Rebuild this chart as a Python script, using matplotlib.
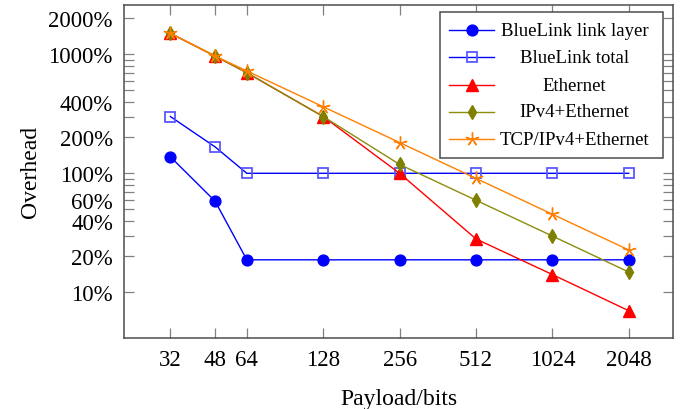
import matplotlib
matplotlib.use("Agg")
import matplotlib.pyplot as plt
from matplotlib.patches import Rectangle
from matplotlib.ticker import FixedLocator, FuncFormatter, NullLocator

plt.rcParams['font.family'] = ['Liberation Serif', 'DejaVu Serif']

payload = [32, 48, 64, 128, 256, 512, 1024, 2048]
bluelink_link = [137.5, 58.3, 18.75, 18.75, 18.75, 18.75, 18.75, 18.75]
bluelink_total = [300, 166.7, 100, 100, 100, 100, 100, 100]
ethernet = [1500, 966.7, 700, 300, 100, 28.1, 14.1, 7.0]
ipv4_eth = [1500, 966.7, 700, 300, 118.8, 59.4, 29.7, 14.8]
tcp_ipv4_eth = [1500, 966.7, 725, 362.5, 181.3, 90.6, 45.3, 22.7]

y_tick_pos = list(range(10, 100, 10)) + list(range(100, 1000, 100)) + [1000, 2000]
y_tick_labels = [10, 20, 40, 60, 100, 200, 400, 1000, 2000]

series = [
    ("BlueLink link layer", bluelink_link, dict(color=(0, 0, 1), marker='o', ms=7.8,
                                                mfc=(0, 0, 1), mec=(0, 0, 1))),
    ("BlueLink total", bluelink_total, dict(color=(0, 0, 1), marker='s', ms=7.8,
                                            mfc='none', mec=(0.35, 0.35, 1), mew=1.3)),
    ("Ethernet", ethernet, dict(color=(1, 0, 0), marker='^', ms=8,
                                mfc=(1, 0, 0), mec=(1, 0, 0))),
    ("IPv4+Ethernet", ipv4_eth, dict(color=(0.55, 0.55, 0.05), marker='d', ms=7.5,
                                     mfc=(0.5, 0.5, 0), mec=(0.5, 0.5, 0))),
    ("TCP/IPv4+Ethernet", tcp_ipv4_eth, dict(color=(1, 0.5, 0), marker=(5, 2, 0), ms=10,
                                             mfc=(1, 0.5, 0), mec=(1, 0.5, 0), mew=1.0)),
]

fig = plt.figure(figsize=(6.82, 4.10), dpi=100)
ax = fig.add_axes([124 / 682, 1 - 339 / 410, 549 / 682, 333.3 / 410])

for label, vals, style in series:
    ax.plot(payload, vals, lw=1.0, **style)

ax.set_xscale('log', base=2)
ax.set_yscale('log')
ax.set_xlim(21, 3060)
ax.set_ylim(4.13, 2612)

ax.xaxis.set_major_locator(FixedLocator(payload))
ax.xaxis.set_major_formatter(FuncFormatter(lambda v, p: "%d" % round(v)))
ax.xaxis.set_minor_locator(NullLocator())
ax.yaxis.set_major_locator(FixedLocator(y_tick_pos))
ax.yaxis.set_major_formatter(FuncFormatter(
    lambda v, p: "%d%%" % round(v) if round(v) in y_tick_labels else ""))
ax.yaxis.set_minor_locator(NullLocator())

ax.tick_params(which='major', direction='in', length=7, width=0.9, color=(0.5, 0.5, 0.5),
               top=True, right=True, labelsize=16.5, pad=8)
for sp in ax.spines.values():
    sp.set_color((0.3, 0.3, 0.3))
    sp.set_linewidth(1.1)

ax.set_xlabel("Payload/bits", fontsize=17, labelpad=13)
ax.set_ylabel("Overhead", fontsize=17, labelpad=5)

# legend drawn by hand so entries are centred like the original
box = Rectangle((0.5756, 0.540), 0.4062, 0.439, transform=ax.transAxes, fill=True,
                facecolor='white', edgecolor=(0.3, 0.3, 0.3), lw=1.1, zorder=5)
ax.add_patch(box)
rows = [0.924, 0.842, 0.759, 0.679, 0.597]
for (label, vals, style), yr in zip(series, rows):
    ax.plot([0.5926, 0.6746], [yr, yr], transform=ax.transAxes, lw=1.0,
            color=style['color'], zorder=6, clip_on=False)
    st = {k: v for k, v in style.items() if k != 'color'}
    ax.plot([0.633], [yr], transform=ax.transAxes, ls='none', zorder=7, clip_on=False, **st)
    ax.text(0.8206, yr, label, transform=ax.transAxes, ha='center', va='center',
            fontsize=13.5, zorder=7)

fig.savefig("out.png", dpi=100)
